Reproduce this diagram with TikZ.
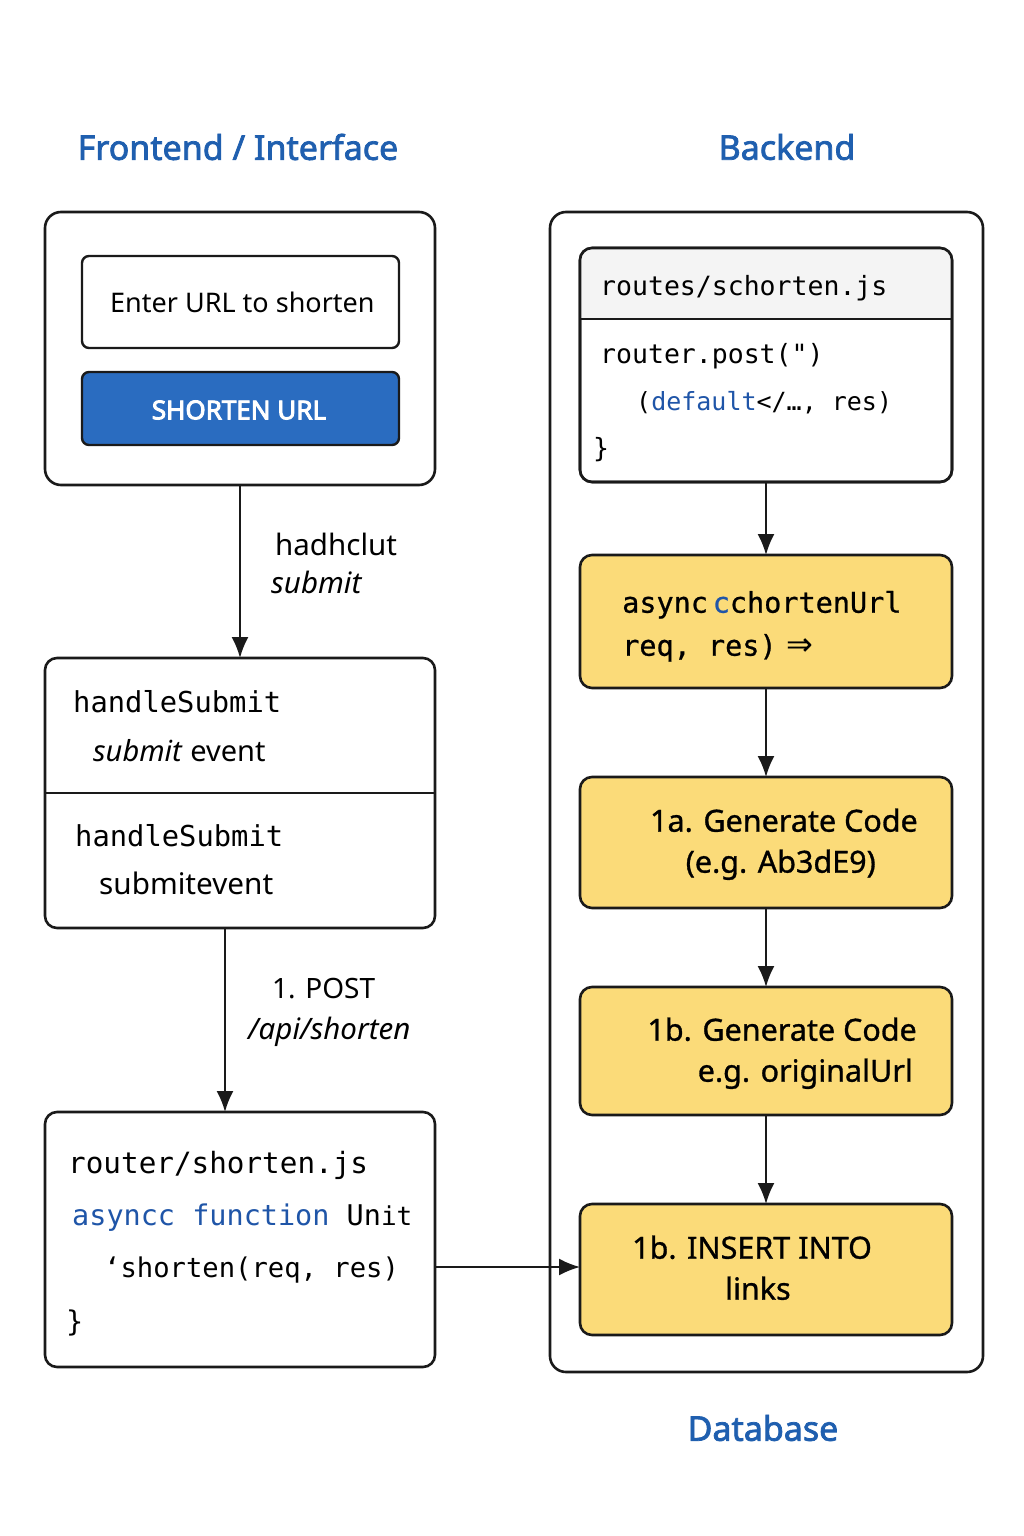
\documentclass[tikz,border=0pt]{standalone}
\usepackage{fontspec}
\setmainfont{Noto Sans}
\setsansfont{Noto Sans}
\setmonofont{DejaVu Sans Mono}
\newfontfamily\titlefont[FakeBold=2.2]{Noto Sans}
\newfontfamily\btnfont[FakeBold=3.5]{Noto Sans}
\newfontfamily\medfont[FakeBold=1.0]{Noto Sans}
\newfontfamily\medmono[FakeBold=0.8]{DejaVu Sans Mono}
\newfontfamily\arrowfont{DejaVu Sans}
\usetikzlibrary{arrows.meta}
\definecolor{titleblue}{HTML}{1F5FAF}
\definecolor{btnblue}{HTML}{2A6CC0}
\definecolor{codeblue}{HTML}{1F55A8}
\definecolor{hdrgray}{HTML}{F4F4F4}
\definecolor{boxyellow}{HTML}{FBDB79}
\definecolor{ink}{HTML}{1A1A1A}
\begin{document}
\begin{tikzpicture}[x=1pt,y=-1pt,
  frame/.style={draw=ink,line width=2.6pt,rounded corners=16pt,fill=white,outer sep=0pt},
  box/.style={draw=ink,line width=2.6pt,rounded corners=12pt,outer sep=0pt},
  ybox/.style={box,fill=boxyellow},
  arr/.style={draw=ink,line width=2pt,-{Latex[length=21pt,width=17pt]}},
  title/.style={text=titleblue,font=\fontsize{34}{38}\titlefont},
  sans/.style={inner sep=0pt,anchor=mid west,yshift=-7pt,font=\fontsize{28}{32}\selectfont},
  ysans/.style={inner sep=0pt,anchor=mid east,yshift=-7pt,font=\fontsize{30.5}{34}\medfont},
  mono/.style={inner sep=0pt,anchor=mid west,yshift=-7pt,font=\fontsize{27}{32}\selectfont\ttfamily},
  lbl/.style={inner sep=0pt,anchor=mid west,yshift=-7pt,font=\fontsize{29.5}{32}\selectfont}
]
\useasboundingbox[fill=white] (0,0) rectangle (1024,1536);

% titles
\node[title] (tfe) at (238,147) {Frontend / Interface};
\node[title] (tbe) at (787,147) {Backend};
\node[title] (tdb) at (763,1428) {Database};

% frontend frame
\node[frame,minimum width=390pt,minimum height=273pt] (fe) at (240,348.5) {};
\node[draw=ink,line width=2.4pt,rounded corners=7pt,fill=white,minimum width=317pt,minimum height=92pt] (inp) at (240.5,302) {};
\node[sans,font=\fontsize{27}{32}\selectfont] (inpt) at (110,303) {Enter URL to shorten};
\node[draw=ink,line width=2.4pt,rounded corners=7pt,fill=btnblue,minimum width=317pt,minimum height=73pt] (btn) at (240.5,408.5) {};
\node[inner sep=0pt,text=white,font=\fontsize{26}{30}\btnfont] (btnt) at (239,410) {SHORTEN URL};

% handleSubmit box
\node[box,fill=white,minimum width=390pt,minimum height=270pt] (hs) at (240,793) {};
\draw[ink,line width=1.4pt] (hs.west |- 0,793) coordinate (dl) -- (hs.east |- 0,793) coordinate (dr);
\node[mono,font=\fontsize{28.8}{32}\selectfont\ttfamily] (hs1) at (73,703) {handleSubmit};
\node[sans,font=\fontsize{29}{32}\selectfont] (hs2) at (93,752) {\textit{submit} event};
\node[mono,font=\fontsize{28.8}{32}\selectfont\ttfamily] (hs3) at (75,837) {handleSubmit};
\node[sans,font=\fontsize{29.7}{32}\selectfont] (hs4) at (99,885) {submitevent};

% router box
\node[box,fill=white,minimum width=390pt,minimum height=255pt] (rt) at (240,1239.5) {};
\node[mono,font=\fontsize{29.3}{32}\selectfont\ttfamily] (rt1) at (68,1164) {router/shorten.js};
\node[mono,font=\fontsize{28.5}{32}\selectfont\ttfamily] (rt2) at (72,1216) {\textcolor{codeblue}{asyncc function} Un\fontsize{26}{32}\selectfont it};
\node[mono,font=\fontsize{27.2}{32}\selectfont\ttfamily] (rt3) at (104,1268) {‘shorten(req, res)};
\node[mono,font=\fontsize{28.5}{32}\selectfont\ttfamily] (rt4) at (66,1322) {\}};

% frontend arrows and labels
\draw[arr] (fe.south) -- (hs.north);
\node[lbl] (l1) at (275,546) {hadhclut};
\node[lbl] (l2) at (271,584) {\textit{submit}};
\draw[arr] ([xshift=-15pt]hs.south) -- ([xshift=-15pt]rt.north);
\node[lbl,font=\fontsize{28}{32}\selectfont] (l3) at (272,989) {1. POST};
\node[lbl] (l4) at (248,1030) {\textit{/api/shorten}};

% backend frame
\node[frame,minimum width=433pt,minimum height=1160pt] (be) at (766.5,792) {};

% routes box
\node[box,fill=white,minimum width=372pt,minimum height=234pt] (ra) at (766,365) {};
\begin{scope}
  \clip[rounded corners=12pt] (580,248) rectangle (952,482);
  \fill[hdrgray] (580,248) rectangle (952,319);
\end{scope}
\draw[box,fill=none] (ra.south west) rectangle (ra.north east);
\draw[ink,line width=2pt] (ra.west |- 0,319) -- (ra.east |- 0,319);
\node[mono,font=\fontsize{26.5}{30}\selectfont\ttfamily] (ra1) at (600,286) {routes/schorten.js};
\node[mono,font=\fontsize{26.5}{30}\selectfont\ttfamily] (ra2) at (600,354) {router.post(")};
\node[mono,font=\fontsize{25}{30}\selectfont\ttfamily] (ra3) at (636,401) {(\textcolor{codeblue}{default}</…, res)};
\node[mono,font=\fontsize{26.5}{30}\selectfont\ttfamily] (ra4) at (593,448) {\}};

% yellow boxes
\node[ybox,minimum width=372pt,minimum height=133pt] (yb) at (766,621.5) {};
\node[mono,font=\fontsize{28.5}{32}\medmono] (yb1) at (622,603) {async\,\textcolor{codeblue}{c}chortenUrl};
\node[mono,font=\fontsize{28.5}{32}\medmono] (yb2) at (622,646) {req, res){\arrowfont\fontsize{32}{32}\selectfont\ ⇒}};

\node[ybox,minimum width=372pt,minimum height=131pt] (yc) at (766,842.5) {};
\node[ysans] (yc1) at (918,822) {1a. Generate Code};
\node[ysans] (yc2) at (876,863) {(e.g. Ab3dE9)};

\node[ybox,minimum width=372pt,minimum height=128pt] (yd) at (766,1051) {};
\node[ysans] (yd1) at (917,1031) {1b. Generate Code};
\node[ysans] (yd2) at (913,1072) {e.g. originalUrl};

\node[ybox,minimum width=372pt,minimum height=131pt] (ye) at (766,1269.5) {};
\node[ysans,anchor=mid west] (ye1) at (632,1249) {1b. INSERT INTO};
\node[ysans,anchor=mid west] (ye2) at (725,1290) {links};

% backend arrows
\draw[arr] (ra.south) -- (yb.north);
\draw[arr] (yb.south) -- (yc.north);
\draw[arr] (yc.south) -- (yd.north);
\draw[arr] (yd.south) -- (ye.north);
\draw[arr] (rt.east |- 0,1267) -- (ye.west |- 0,1267);
\end{tikzpicture}
\end{document}
